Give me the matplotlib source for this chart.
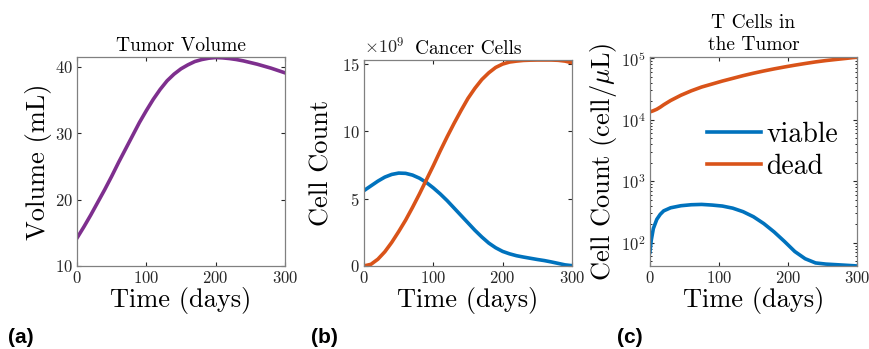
import numpy as np
import matplotlib
matplotlib.use('Agg')
import matplotlib.pyplot as plt

plt.rcParams['font.family'] = 'cmr10'
plt.rcParams['mathtext.fontset'] = 'cm'
plt.rcParams['axes.formatter.use_mathtext'] = True

# tumor volume (mL)
t_a = [0, 10, 20, 30, 40, 50, 60, 70, 80, 90, 100, 110, 120, 130, 140, 150,
       160, 170, 180, 190, 200, 210, 220, 230, 240, 250, 260, 270, 280, 290, 300]
volume = [14.2, 15.9, 17.7, 19.6, 21.5, 23.5, 25.6, 27.6, 29.6, 31.6, 33.4,
          35.1, 36.6, 37.9, 38.9, 39.7, 40.3, 40.8, 41.1, 41.3, 41.4, 41.35,
          41.25, 41.1, 40.9, 40.65, 40.4, 40.1, 39.8, 39.45, 39.1]

# cancer cells (x 1e9)
t_b = t_a
cancer_viable = [5.6, 5.95, 6.3, 6.6, 6.8, 6.9, 6.88, 6.75, 6.52, 6.2, 5.8,
                 5.35, 4.85, 4.3, 3.75, 3.2, 2.65, 2.15, 1.7, 1.35, 1.08, 0.9,
                 0.76, 0.66, 0.57, 0.48, 0.4, 0.3, 0.19, 0.08, 0.02]
cancer_dead = [0.0, 0.12, 0.5, 1.05, 1.75, 2.55, 3.4, 4.35, 5.35, 6.4, 7.45,
               8.55, 9.6, 10.6, 11.55, 12.45, 13.2, 13.85, 14.35, 14.75, 15.0,
               15.15, 15.22, 15.27, 15.29, 15.3, 15.3, 15.3, 15.28, 15.22, 15.1]

# T cells in the tumor (cell/uL)
t_c = [0, 2, 5, 10, 15, 20, 30, 45, 60, 75, 90, 105, 120, 135, 150, 165,
       180, 195, 210, 225, 240, 255, 270, 285, 300]
tcell_viable = [70, 110, 170, 240, 290, 330, 370, 400, 415, 420, 410, 395,
                365, 320, 265, 205, 150, 105, 72, 55, 47, 45, 44, 43, 42]
tcell_dead = [13500, 13600, 14000, 14800, 16000, 17500, 20500, 25000, 29500,
              34000, 38000, 42500, 47000, 52000, 57000, 62000, 67000, 72000,
              77000, 82000, 87000, 91500, 95500, 99500, 104000]

blue = '#0072BD'
orange = '#D95319'
purple = '#7E2F8E'

fig = plt.figure(figsize=(8.7, 3.49), dpi=100)
ax1 = fig.add_axes([0.0885, 0.238, 0.239, 0.599])
ax2 = fig.add_axes([0.4184, 0.238, 0.239, 0.590])
ax3 = fig.add_axes([0.747, 0.238, 0.238, 0.599])

for ax in (ax1, ax2, ax3):
    ax.tick_params(direction='in', top=True, right=True, length=3,
                   labelsize=12, colors='0.15', pad=3)
    ax.tick_params(which='minor', direction='in', top=True, right=True, length=1.5)
    for s in ax.spines.values():
        s.set_color('0.5')
        s.set_linewidth(0.9)
    ax.set_xlim(0, 300)
    ax.set_xticks([0, 100, 200, 300])
    ax.set_xlabel('Time (days)', fontsize=19, labelpad=1)

ax1.plot(t_a, volume, color=purple, lw=2.6)
ax1.set_ylim(10, 41.5)
ax1.set_yticks([10, 20, 30, 40])
ax1.set_ylabel('Volume (mL)', fontsize=19, labelpad=2)
ax1.set_title('Tumor Volume', fontsize=14, pad=4)

ax2.plot(t_b, cancer_viable, color=blue, lw=2.6)
ax2.plot(t_b, cancer_dead, color=orange, lw=2.6)
ax2.set_ylim(0, 15.3)
ax2.set_yticks([0, 5, 10, 15])
ax2.set_ylabel('Cell Count', fontsize=19, labelpad=6)
ax2.set_title('Cancer Cells', fontsize=14, pad=4)
ax2.text(0.0, 1.02, r'$\times 10^9$', transform=ax2.transAxes, fontsize=13,
         ha='left', va='bottom', color='0.15')

ax3.semilogy(t_c, tcell_viable, color=blue, lw=2.6, label='viable')
ax3.semilogy(t_c, tcell_dead, color=orange, lw=2.6, label='dead')
ax3.set_ylim(42, 1.05e5)
ax3.set_ylabel(r'Cell Count (cell/$\mu$L)', fontsize=19, labelpad=1)
ax3.set_title('T Cells in\nthe Tumor', fontsize=14, pad=5, linespacing=1.3)
ax3.legend(loc='upper right', bbox_to_anchor=(1.03, 0.81), frameon=False,
           fontsize=20, handlelength=1.95, handletextpad=0.2, labelspacing=0.2)

fig.text(0.009, 0.018, '(a)', fontsize=15, fontweight='bold', family='Liberation Sans')
fig.text(0.358, 0.018, '(b)', fontsize=15, fontweight='bold', family='Liberation Sans')
fig.text(0.709, 0.018, '(c)', fontsize=15, fontweight='bold', family='Liberation Sans')

fig.savefig('out.png', dpi=100)
